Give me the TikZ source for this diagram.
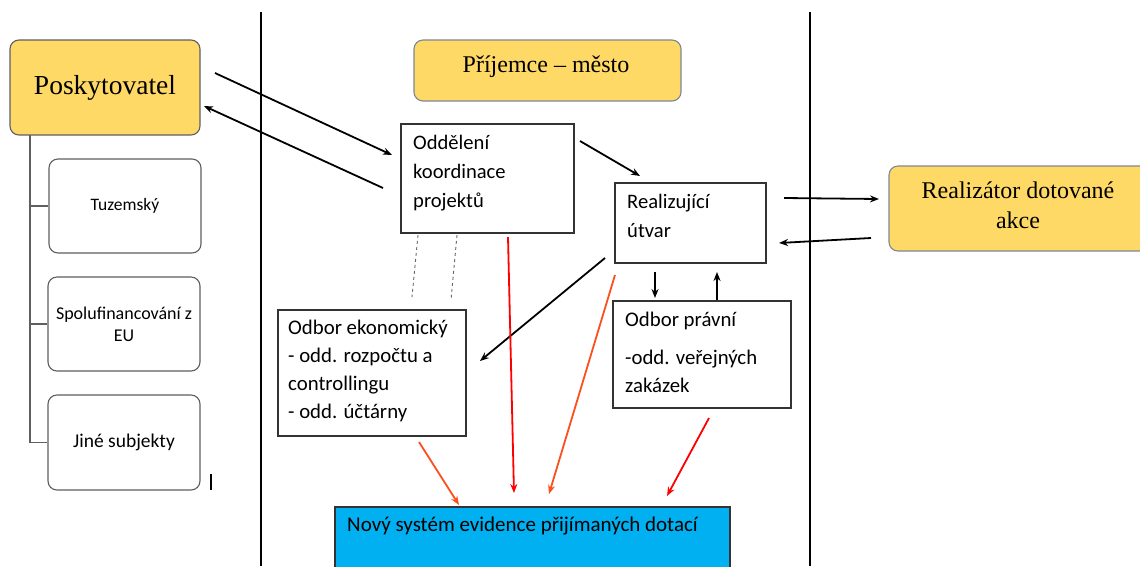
\documentclass[tikz,border=0pt]{standalone}
\usepackage{fontspec}
\setmainfont{Carlito}
\newfontfamily\tnr{Liberation Serif}
\usetikzlibrary{arrows.meta}
\definecolor{gold}{RGB}{255,217,102}
\definecolor{cyanbox}{RGB}{0,176,240}
\definecolor{orred}{RGB}{250,80,30}
\definecolor{bordgray}{RGB}{95,95,95}
\definecolor{bluegray}{RGB}{125,135,150}
\tikzset{
  goldbox/.style={draw=bluegray, line width=1.1pt, fill=gold, rounded corners=9pt, inner sep=0pt},
  subbox/.style={draw=bordgray, line width=1.1pt, fill=white, rounded corners=9pt, inner sep=0pt, align=center},
  plainbox/.style={draw=black!80, line width=1.1pt, fill=white, inner sep=0pt},
  txt/.style={inner sep=0pt, align=left, font=\fontsize{20.6}{29}\selectfont},
  arr/.style={line width=1.8pt, -{Stealth[length=9pt,width=7pt]}},
  redarr/.style={line width=1.8pt, -{Stealth[length=9pt,width=7pt]}},
  dashlink/.style={line width=0.9pt, dashed, gray!80!black},
  sepline/.style={line width=2.2pt, black},
}
\begin{document}
\begin{tikzpicture}[x=1pt,y=-1pt]
\useasboundingbox[fill=white] (0,0) rectangle (1140,566);

% separators
\coordinate (s1t) at (261,12); \coordinate (s1b) at (261,566);
\coordinate (s2t) at (810,12); \coordinate (s2b) at (810,566);
\draw[sepline] (s1t) -- (s1b);
\draw[sepline] (s2t) -- (s2b);

% left column
\node[goldbox, draw=bordgray, minimum width=190pt, minimum height=95pt, font=\tnr\fontsize{27.5}{30}\selectfont] (posk) at (105,87.5) {Poskytovatel};
\node[subbox, minimum width=152pt, minimum height=94pt, font=\fontsize{17.5}{22}\selectfont] (tuz) at (125,206) {Tuzemský};
\node[subbox, minimum width=152pt, minimum height=94pt, font=\fontsize{18}{22}\selectfont] (spol) at (124,324) {Spolufinancování z\\EU};
\node[subbox, minimum width=152pt, minimum height=95pt, font=\fontsize{19.5}{22}\selectfont] (jine) at (124,442.5) {Jiné subjekty};
\coordinate (treetop) at (30,135);
\draw[bordgray, line width=1.3pt] (treetop) |- (jine.west);
\draw[bordgray, line width=1.3pt] (30,0 |- tuz.west) -- (tuz.west);
\draw[bordgray, line width=1.3pt] (30,0 |- spol.west) -- (spol.west);
\coordinate (tk1) at (211,474); \coordinate (tk2) at (211,490);
\draw[line width=1.1pt] (tk1) -- (tk2);

% top gold boxes
\node[goldbox, minimum width=267pt, minimum height=61pt] (prij) at (547.5,70.5) {};
\node[inner sep=0pt, font=\tnr\fontsize{24}{28}\selectfont] (prijt) at (546,67) {Příjemce – město};
\node[goldbox, minimum width=261pt, minimum height=85pt] (realz) at (1019.5,208.5) {};
\node[inner sep=0pt, align=center, font=\tnr\fontsize{24}{30}\selectfont] (realzt) at (1018,205) {Realizátor dotované\\akce};

% inner boxes
\node[plainbox, minimum width=173pt, minimum height=109pt] (odd) at (487.5,178.5) {};
\node[txt, anchor=north west] (oddt) at (413,135) {Oddělení\\koordinace\\projektů};
\node[plainbox, minimum width=151pt, minimum height=80pt] (real) at (690.5,223) {};
\node[txt, anchor=north west] (realt) at (627,194) {Realizující\\útvar};
\node[plainbox, minimum width=188pt, minimum height=126pt] (ekon) at (372,373) {};
\node[txt, anchor=north west, font=\fontsize{20.8}{28}\selectfont] (ekont) at (288,320) {Odbor ekonomický\\- odd. rozpočtu a\\controllingu\\- odd. účtárny};
\node[plainbox, minimum width=178pt, minimum height=107pt] (prav) at (702,354.5) {};
\node[txt, anchor=north west, font=\fontsize{20.8}{28}\selectfont] (pravt) at (625,312) {Odbor právní\\[10pt]-odd. veřejných\\zakázek};
\node[plainbox, fill=cyanbox, minimum width=395pt, minimum height=62pt] (novy) at (532.5,538) {};
\node[txt, anchor=north west, font=\fontsize{21}{28}\selectfont] (novyt) at (347,517) {Nový systém evidence přijímaných dotací};

% black arrows
\coordinate (a1s) at (215,73);  \coordinate (a1e) at (392,155);
\coordinate (a2s) at (383,188); \coordinate (a2e) at (204,106);
\coordinate (a3s) at (580,141); \coordinate (a3e) at (640,176);
\coordinate (a4s) at (784,198); \coordinate (a4e) at (879,199);
\coordinate (a5s) at (871,238); \coordinate (a5e) at (779,243);
\coordinate (a6s) at (605,258); \coordinate (a6e) at (480,361);
\coordinate (a7s) at (655,272); \coordinate (a7e) at (655,298);
\coordinate (a8s) at (717,300); \coordinate (a8e) at (717,272);
\draw[arr] (a1s) -- (a1e);
\draw[arr] (a2s) -- (a2e);
\draw[arr] (a3s) -- (a3e);
\draw[arr] (a4s) -- (a4e);
\draw[arr] (a5s) -- (a5e);
\draw[arr] (a6s) -- (a6e);
\draw[arr] (a7s) -- (a7e);
\draw[arr] (a8s) -- (a8e);

% dashed links
\coordinate (d1s) at (418,235); \coordinate (d1e) at (412,297);
\coordinate (d2s) at (457,235); \coordinate (d2e) at (451,300);
\draw[dashlink] (d1s) -- (d1e);
\draw[dashlink] (d2s) -- (d2e);

% red arrows
\coordinate (r1s) at (508,237); \coordinate (r1e) at (514,493);
\coordinate (r2s) at (615,275); \coordinate (r2e) at (549,494);
\coordinate (r3s) at (419,442); \coordinate (r3e) at (459,505);
\coordinate (r4s) at (709,418); \coordinate (r4e) at (667,496);
\draw[redarr, red] (r1s) -- (r1e);
\draw[redarr, orred] (r2s) -- (r2e);
\draw[redarr, orred] (r3s) -- (r3e);
\draw[redarr, red] (r4s) -- (r4e);
\end{tikzpicture}
\end{document}
